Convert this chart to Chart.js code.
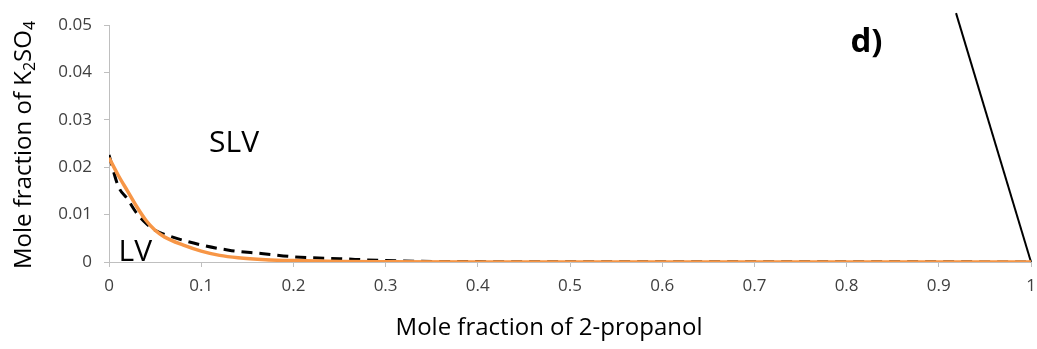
<!DOCTYPE html>
<html><head><meta charset="utf-8">
<script src="https://cdn.jsdelivr.net/npm/chart.js@4/dist/chart.umd.min.js"></script>
<style>html,body{margin:0;padding:0;background:#fff}#wrap{width:1037px;height:349px}</style>
</head><body><div id="wrap"><canvas id="c" width="1037" height="349"></canvas></div>
<script>
// Mole fraction of 2-propanol (x) vs mole fraction of K2SO4 (y)
const xOrange = [0, 0.01, 0.02, 0.03, 0.04, 0.05, 0.06, 0.08, 0.10, 0.12, 0.14, 0.17, 0.20, 0.25, 0.30, 0.40, 0.60, 0.80, 1.0];
const yOrange = [0.0220, 0.0183, 0.0150, 0.0117, 0.0088, 0.0067, 0.0053, 0.0036, 0.0023, 0.0014, 0.0009, 0.0005, 0.0003, 0.0001, 0.00003, 0, 0, 0, 0];
const xDashed = [0, 0.01, 0.02, 0.03, 0.04, 0.05, 0.07, 0.10, 0.13, 0.165, 0.20, 0.25, 0.30, 0.40, 0.60, 0.80, 1.0];
const yDashed = [0.0226, 0.0160, 0.0133, 0.0103, 0.0082, 0.0067, 0.0052, 0.0036, 0.0025, 0.0018, 0.0011, 0.0007, 0.0003, 0.00008, 0.00006, 0.00004, 0.00002];
const xSolid = [0.9187, 1.0];
const ySolid = [0.0525, 0];
const xTicks = [0, 0.1, 0.2, 0.3, 0.4, 0.5, 0.6, 0.7, 0.8, 0.9, 1];
const yTicks = [0, 0.01, 0.02, 0.03, 0.04, 0.05];
const labels = [
  {text: 'SLV', x: 0.1356, y: 0.0250, bold: false, size: 30},
  {text: 'LV', x: 0.0285, y: 0.0021, bold: false, size: 30},
  {text: 'd)', x: 0.8215, y: 0.0463, bold: true, size: 33}
];
const xTitle = 'Mole fraction of 2-propanol';
const yTitleParts = [['Mole fraction of K', false], ['2', true], ['SO', false], ['4', true]];

const pts = (xs, ys) => xs.map((v, i) => ({x: v, y: ys[i]}));
const FONT = "'Open Sans', sans-serif";

const annot = {
  id: 'annot',
  afterDraw(chart) {
    const {ctx, scales: {x, y}} = chart;
    ctx.save();
    ctx.fillStyle = '#000';
    ctx.textAlign = 'center';
    ctx.textBaseline = 'middle';
    labels.forEach(l => {
      ctx.font = (l.bold ? 'bold ' : '') + l.size + 'px ' + FONT;
      ctx.fillText(l.text, x.getPixelForValue(l.x), y.getPixelForValue(l.y));
    });
    // x title
    ctx.font = '24px ' + FONT;
    ctx.fillText(xTitle, 549, 328);
    // y title with subscripts
    ctx.translate(23, 145);
    ctx.rotate(-Math.PI / 2);
    const big = '24px ' + FONT, small = '16px ' + FONT;
    let total = 0;
    yTitleParts.forEach(([t, sub]) => { ctx.font = sub ? small : big; total += ctx.measureText(t).width; });
    let cx = -total / 2;
    ctx.textAlign = 'left';
    ctx.textBaseline = 'alphabetic';
    yTitleParts.forEach(([t, sub]) => {
      ctx.font = sub ? small : big;
      ctx.fillText(t, cx, sub ? 12 : 8);
      cx += ctx.measureText(t).width;
    });
    ctx.restore();
  }
};

new Chart(document.getElementById('c'), {
  type: 'line',
  data: {
    datasets: [
      {data: pts(xOrange, yOrange), order: 0, borderColor: '#F79646', borderWidth: 3.5, pointRadius: 0, cubicInterpolationMode: 'monotone', fill: false},
      {data: pts(xDashed, yDashed), order: 1, borderColor: '#000', borderWidth: 3, borderDash: [11, 7], pointRadius: 0, cubicInterpolationMode: 'monotone', fill: false},
      {data: pts(xSolid, ySolid), order: 2, borderColor: '#000', borderWidth: 2, pointRadius: 0, fill: false, clip: false}
    ]
  },
  options: {
    responsive: false,
    animation: false,
    layout: {padding: {top: 25, right: 6, left: 0, bottom: 0}},
    plugins: {legend: {display: false}, tooltip: {enabled: false}},
    scales: {
      x: {
        type: 'linear', min: 0, max: 1,
        afterBuildTicks: s => { s.ticks = xTicks.map(v => ({value: v})); },
        afterFit: s => { s.height = 87; s.paddingLeft = 0; s.paddingRight = 0; },
        grid: {drawOnChartArea: false, tickLength: 5, color: '#bfbfbf'},
        border: {color: '#bfbfbf', width: 1},
        ticks: {padding: 9, color: '#404040', font: {family: FONT, size: 17}, maxRotation: 0, callback: v => String(v)}
      },
      y: {
        type: 'linear', min: 0, max: 0.05,
        afterBuildTicks: s => { s.ticks = yTicks.map(v => ({value: v})); },
        afterFit: s => { s.width = 109; s.paddingTop = 0; s.paddingBottom = 0; },
        grid: {drawOnChartArea: false, tickLength: 5, color: '#bfbfbf'},
        border: {color: '#bfbfbf', width: 1},
        ticks: {padding: 12, color: '#404040', font: {family: FONT, size: 17}, callback: v => String(v)}
      }
    }
  },
  plugins: [annot]
});
</script>
</body></html>
